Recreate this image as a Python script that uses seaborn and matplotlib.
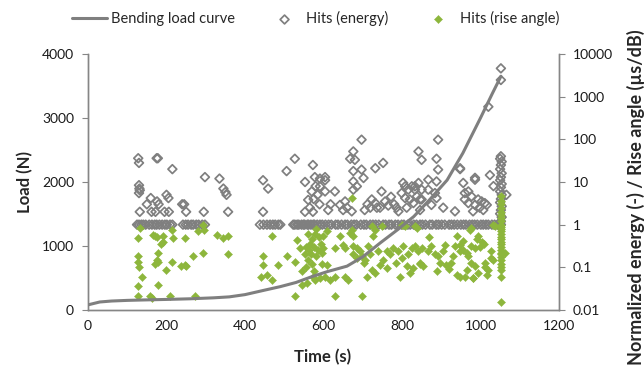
import numpy as np
import pandas as pd
import matplotlib
matplotlib.use("Agg")
import matplotlib.pyplot as plt
import seaborn as sns

# -------- DATA --------
# bending load curve (left axis)
load_time = [0, 30, 60, 100, 130, 200, 260, 320, 360, 400, 450, 490, 530, 570,
             610, 660, 700, 745, 790, 830, 870, 915, 955, 1000, 1030, 1052]
load_value = [80, 125, 140, 150, 155, 165, 175, 190, 205, 240, 310, 365, 430, 520,
              600, 685, 830, 1050, 1260, 1460, 1720, 2030, 2450, 3000, 3380, 3650]

# hits, normalized energy (right axis)
energy_time = [
    128, 130, 130, 131, 132, 130, 132, 150, 160, 162,
    176, 175, 178, 172, 180, 195, 200, 205, 206, 215,
    240, 245, 250, 298, 295, 335, 345, 350, 353, 357,
    446, 459, 446, 506, 527, 553, 573, 578, 561, 570,
    575, 580, 585, 590, 565, 553, 573, 591, 604, 604,
    591, 604, 629, 642, 650, 655, 672, 668, 676, 680,
    697, 676, 697, 702, 676, 685, 676, 732, 752, 748,
    723, 732, 736, 744, 719, 803, 808, 816, 825, 833,
    799, 808, 820, 829, 838, 846, 842, 791, 812, 846,
    892, 850, 888, 892, 888, 867, 842, 850, 867, 850,
    888, 884, 948, 956, 986, 960, 969, 977, 994, 1003,
    1011, 1016, 969, 986, 935, 960, 998, 1007, 905, 875,
    1024, 1033, 1020, 1052, 1052, 1066, 948, 986, 981, 833,
    757, 765, 772, 780, 786, 712, 705, 660, 618, 612,
    1052, 1050, 1054, 1052, 1050, 1054, 1052, 1050, 1054, 1052,
    1050, 1054, 1052, 1050, 1054, 1052, 1050, 1054, 1052, 1050,
]
energy_value = [
    36, 28, 8.4, 7, 6.4, 5.5, 2, 3, 4.2, 2,
    3.5, 36, 36, 2, 3, 2, 5, 4.2, 2, 20,
    3, 3, 2, 13, 2, 12, 7, 5.8, 5, 2,
    11, 7, 2, 18, 35, 10, 25, 13, 3.8, 6,
    4, 8, 5, 3, 2.5, 2, 2, 12, 13, 11,
    7.9, 6, 6, 2.9, 2.2, 3.5, 2.05, 35, 52, 33,
    98, 18, 19.5, 12.4, 10.3, 7.9, 6.6, 21, 28, 6,
    3.9, 3.2, 2.5, 2.5, 2.5, 9.5, 7.9, 6.6, 7.9, 6.6,
    5.5, 4.2, 3.9, 3.2, 4.6, 3.9, 52, 2.05, 2.5, 2.2,
    98, 33, 35, 19.5, 10.3, 11.3, 9.5, 6.6, 6.6, 3.9,
    4.2, 5.5, 20, 9.5, 11.3, 5.5, 6, 4.6, 3.9, 3.5,
    3.2, 2.9, 3.2, 2.9, 2.05, 3.9, 2.5, 2.2, 2.5, 2.9,
    14.5, 8, 580, 4600, 2460, 5, 21, 12.5, 2.05, 7.9,
    3.5, 2.8, 4.5, 3, 2.5, 3, 2.2, 2.5, 3, 2.2,
    40, 35, 30, 25, 20, 16, 13, 11, 9, 7.5,
    6, 5, 4, 3.3, 2.7, 2.2, 1.8, 1.5, 1.2, 1.1,
]
# hits sitting on the energy = 1 row
energy_one_time = [
    125, 130, 136, 141, 147, 156, 163, 170, 175, 182, 189, 196, 201, 209, 215,
    242, 249, 255, 263, 268, 276, 282, 291, 298,
    438, 447, 456, 464, 471, 477, 485, 490,
    523, 527, 533, 537, 544, 549, 552, 559, 562, 568, 574, 577, 584, 591, 597,
    605, 613, 620, 631, 637, 646, 655, 661, 671, 678, 684, 695, 703, 709, 719,
    726, 733, 741, 752, 758, 767, 773, 783, 790, 799, 805, 815, 821, 830, 837,
    846, 852, 860, 871, 877, 887, 893, 901, 909, 920, 926, 933, 941, 950, 957,
    963, 972, 979, 985, 992, 1001, 1007, 1014, 1020, 1029, 1036, 1044, 1052,
]

# hits, rise angle (right axis)
rise_time = [
    132, 128, 127, 128, 129, 137, 128, 128, 158, 162,
    171, 175, 191, 191, 186, 179, 175, 179, 172, 179,
    200, 213, 217, 213, 209, 238, 247, 247, 268, 281,
    294, 296, 294, 273, 328, 345, 357, 357, 250, 165,
    468, 447, 447, 485, 506, 442, 455, 468, 527, 544,
    540, 532, 527, 544, 557, 574, 578, 590, 552, 556,
    560, 563, 566, 570, 572, 575, 578, 582, 585, 588,
    560, 568, 580, 593, 596, 555, 575, 672, 608, 600,
    600, 595, 608, 642, 650, 655, 629, 668, 676, 672,
    676, 685, 697, 702, 723, 748, 727, 732, 714, 723,
    744, 761, 761, 769, 786, 799, 812, 820, 829, 799,
    808, 838, 629, 604, 617, 655, 663, 629, 697, 710,
    732, 795, 676, 685, 693, 706, 719, 740, 752, 778,
    790, 803, 816, 825, 842, 846, 977, 833, 833, 850,
    846, 854, 867, 875, 884, 892, 905, 909, 888, 896,
    913, 926, 930, 939, 948, 935, 948, 965, 977, 986,
    994, 1003, 969, 977, 986, 939, 948, 960, 982, 994,
    1011, 1020, 1016, 1028, 1028, 973, 1037, 956, 956, 1033,
    1062, 981, 1000, 1008, 990, 965, 1012, 1033, 920, 870,
    1052, 1052, 1053, 1052, 1051, 1052, 1053, 1052, 1051, 1052,
    1052, 1053, 1052, 1051, 1052, 1053, 1052, 1051, 1052, 1052,
    1052, 1053, 1052, 1051, 1052, 1053, 1052, 1052,
]
rise_value = [
    0.84, 0.49, 0.18, 0.13, 0.1, 0.06, 0.036, 0.021, 0.021, 0.019,
    0.53, 0.5, 0.53, 0.4, 0.35, 0.22, 0.15, 0.13, 0.12, 0.039,
    0.088, 0.76, 0.49, 0.13, 0.021, 0.105, 0.115, 0.49, 0.18, 0.7,
    1.0, 0.76, 0.22, 0.021, 0.58, 0.49, 0.53, 0.2, 0.11, 0.58,
    0.53, 0.18, 0.115, 0.115, 0.18, 0.06, 0.067, 0.05, 0.13, 0.08,
    0.28, 0.44, 0.021, 0.039, 0.043, 0.06, 0.05, 0.055, 0.2, 0.3,
    0.15, 0.25, 0.35, 0.12, 0.45, 0.3, 0.6, 0.8, 0.25, 0.5,
    0.6, 0.2, 0.18, 0.35, 0.12, 0.1, 0.08, 4.2, 0.7, 0.53,
    0.28, 0.22, 0.115, 0.53, 0.34, 0.28, 0.28, 0.64, 0.53, 0.76,
    0.2, 0.165, 0.18, 0.127, 0.91, 0.91, 0.53, 0.76, 0.31, 0.088,
    0.115, 0.097, 0.24, 0.2, 0.127, 0.165, 0.105, 0.074, 0.097, 1.0,
    0.91, 0.84, 0.06, 0.06, 0.05, 0.06, 0.05, 0.021, 0.021, 0.06,
    0.074, 0.06, 0.31, 0.28, 0.24, 0.15, 0.2, 0.24, 0.15, 0.28,
    0.24, 0.31, 0.2, 0.28, 0.24, 0.12, 0.84, 0.91, 0.31, 0.28,
    0.127, 0.105, 0.24, 0.31, 0.2, 0.18, 0.24, 0.34, 0.08, 0.127,
    0.115, 0.127, 0.18, 0.53, 0.34, 0.31, 0.24, 0.22, 0.31, 0.28,
    0.53, 0.4, 0.18, 0.127, 0.105, 0.067, 0.06, 0.06, 0.055, 0.074,
    0.127, 0.088, 0.067, 0.165, 0.24, 0.76, 0.91, 0.41, 0.26, 0.15,
    0.22, 0.057, 0.3, 0.35, 0.45, 0.088, 0.1, 1.0, 0.09, 0.5,
    4.6, 3.5, 3, 2.5, 2, 1.7, 1.4, 1.2, 1.0, 0.9,
    0.8, 0.7, 0.6, 0.5, 0.45, 0.4, 0.35, 0.3, 0.25, 0.22,
    0.2, 0.17, 0.15, 0.12, 0.1, 0.085, 0.06, 0.015,
]

# -------- SETTINGS --------
sns.set_style("white")
plt.rcParams["font.family"] = ["Lato", "DejaVu Sans"]
plt.rcParams["font.size"] = 10

GREY = "#7f7f7f"
GREEN = "#8db63c"
AXIS = "#868686"

energy_df = pd.DataFrame({
    "Time": energy_time + energy_one_time,
    "Value": energy_value + [1.0] * len(energy_one_time),
})
rise_df = pd.DataFrame({"Time": rise_time, "Value": rise_value})
load_df = pd.DataFrame({"Time": load_time, "Load": load_value})

fig = plt.figure(figsize=(6.44, 3.72), dpi=100)
ax = fig.add_axes([0.1366, 0.1667, 0.7314, 0.6882])
ax2 = ax.twinx()

sns.lineplot(data=load_df, x="Time", y="Load", ax=ax, color=GREY,
             linewidth=2.2, label="Bending load curve", legend=False, zorder=3)

sns.scatterplot(data=energy_df, x="Time", y="Value", ax=ax2, marker="D",
                s=20, facecolor="none", edgecolor=GREY, linewidth=1.25,
                label="Hits (energy)", legend=False)
sns.scatterplot(data=rise_df, x="Time", y="Value", ax=ax2, marker="D",
                s=17, color=GREEN, edgecolor=GREEN, linewidth=0.3,
                label="Hits (rise angle)", legend=False)

# load curve drawn above the hits
ax.set_zorder(2)
ax.patch.set_visible(False)

ax.set_xlim(0, 1200)
ax.set_ylim(0, 4000)
ax.set_xticks(range(0, 1201, 200))
ax.set_yticks(range(0, 4001, 1000))
ax2.set_yscale("log")
ax2.set_ylim(0.01, 10000)
ax2.set_yticks([0.01, 0.1, 1, 10, 100, 1000, 10000])
ax2.set_yticklabels(["0.01", "0.1", "1", "10", "100", "1000", "10000"])
ax2.minorticks_off()

for a in (ax, ax2):
    for side in ("left", "right", "bottom"):
        a.spines[side].set_color(AXIS)
        a.spines[side].set_linewidth(1.0)
    a.spines["top"].set_visible(False)
    a.tick_params(axis="both", which="both", direction="out", length=4,
                  color=AXIS, labelsize=10, labelcolor="#1a1a1a")
ax.tick_params(axis="y", pad=6)
ax2.tick_params(axis="y", pad=6)

ax.set_xlabel("Time (s)", fontweight="bold", fontsize=12, va="center")
ax.set_ylabel("Load (N)", fontweight="bold", fontsize=12, va="center")
ax2.set_ylabel("Normalized energy (-) / Rise angle (\u00b5s/dB)",
               fontweight="bold", fontsize=13, va="center")
ax.xaxis.set_label_coords(0.499, -0.184)
ax.yaxis.set_label_coords(-0.134, 0.5)
ax2.yaxis.set_label_coords(1.163, 0.44)

h1, l1 = ax.get_legend_handles_labels()
h2, l2 = ax2.get_legend_handles_labels()
fig.legend(h1 + h2, l1 + l2, loc="upper center", bbox_to_anchor=(0.49, 1.005),
           ncol=3, frameon=False, fontsize=10.5, handlelength=2.4,
           handletextpad=0.3, columnspacing=2.2, markerscale=1.0)

fig.savefig("out.png", dpi=100)
